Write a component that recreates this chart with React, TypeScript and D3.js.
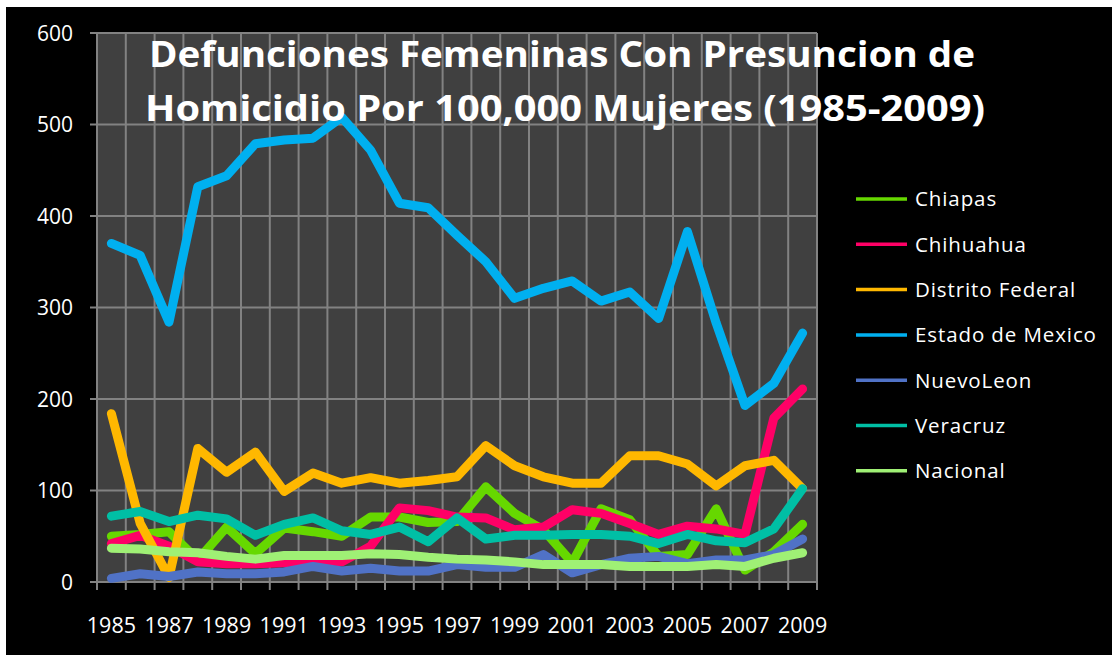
import * as d3 from "d3";

const years = d3.range(1985, 2010).map(String);
const yTicks = [0, 100, 200, 300, 400, 500, 600];
const xLabels = years.filter((y, i) => i % 2 === 0);

const chiapas = [50, 52, 55, 24, 60, 31, 59, 55, 50, 71, 71, 65, 66, 104, 75, 57, 21, 80, 68, 28, 30, 80, 13, 33, 63];
const chihuahua = [42, 51, 39, 22, 20, 20, 21, 24, 22, 39, 81, 78, 71, 70, 57, 60, 79, 75, 64, 52, 61, 58, 52, 179, 211];
const distritoFederal = [184, 64, 5, 146, 120, 142, 99, 119, 108, 114, 108, 111, 115, 149, 127, 115, 108, 108, 138, 138, 129, 105, 127, 133, 102];
const estadoMexico = [370, 357, 284, 432, 444, 479, 483, 485, 508, 472, 414, 409, 379, 350, 310, 321, 329, 307, 317, 288, 383, 283, 193, 217, 272];
const nuevoLeon = [4, 9, 6, 11, 9, 9, 11, 17, 12, 15, 12, 12, 19, 16, 16, 30, 10, 19, 26, 28, 20, 24, 24, 30, 47];
const veracruz = [72, 77, 66, 73, 69, 51, 63, 70, 56, 52, 60, 44, 70, 47, 51, 51, 52, 52, 50, 42, 52, 45, 43, 58, 102];
const nacional = [37, 36, 33, 32, 28, 25, 29, 29, 29, 31, 30, 27, 25, 24, 22, 19, 19, 19, 17, 17, 17, 19, 17, 26, 32];

const seriesNames = ["Chiapas", "Chihuahua", "Distrito Federal", "Estado de Mexico", "NuevoLeon", "Veracruz", "Nacional"];
const seriesValues = [chiapas, chihuahua, distritoFederal, estadoMexico, nuevoLeon, veracruz, nacional];
const seriesColors = ["#66d800", "#ff0066", "#ffb800", "#00b0f0", "#5072c6", "#00bfa5", "#9ff075"];

const W = 1112;
const H = 657;
const PLOT = { left: 97, right: 817, top: 33, bottom: 582 };
const FONT = "'Open Sans', 'DejaVu Sans', sans-serif";

export default function App() {
  const x = d3.scaleBand().domain(years).range([PLOT.left, PLOT.right]).padding(0);
  const y = d3.scaleLinear().domain([0, 600]).range([PLOT.bottom, PLOT.top]);
  const cx = (yr: string) => (x(yr) as number) + x.bandwidth() / 2;

  const line = d3
    .line<number>()
    .x((d, i) => cx(years[i]))
    .y((d) => y(d));

  const boundaries = years.map((yr) => x(yr) as number).concat([PLOT.right]);

  return (
    <div style={{ position: "absolute", left: 0, top: 0 }}>
      <svg width={W} height={H} style={{ display: "block" }}>
        <rect x={0} y={0} width={W} height={H} fill="#fff" />
        <rect x={6} y={7} width={W - 6} height={648} fill="#000" />
        <rect
          x={PLOT.left}
          y={PLOT.top}
          width={PLOT.right - PLOT.left}
          height={PLOT.bottom - PLOT.top}
          fill="#404040"
        />
        {/* grid */}
        {yTicks.map((t) => (
          <line key={"h" + t} x1={90} x2={PLOT.right} y1={y(t)} y2={y(t)} stroke="#828282" strokeWidth={2} />
        ))}
        {boundaries.map((bx, i) => (
          <line key={"v" + i} x1={bx} x2={bx} y1={PLOT.top} y2={PLOT.bottom + 8} stroke="#828282" strokeWidth={2} />
        ))}
        {/* y labels */}
        {yTicks.map((t) => (
          <text
            key={"yl" + t}
            x={73}
            y={y(t)}
            dy="0.36em"
            textAnchor="end"
            fill="#fff"
            fontFamily={FONT}
            fontSize={21}
          >
            {t}
          </text>
        ))}
        {/* x labels */}
        {xLabels.map((yr) => (
          <text
            key={"xl" + yr}
            x={cx(yr)}
            y={633}
            textAnchor="middle"
            fill="#fff"
            fontFamily={FONT}
            fontSize={21.5}
          >
            {yr}
          </text>
        ))}
        {/* lines */}
        {seriesValues.map((vals, i) => (
          <path
            key={seriesNames[i]}
            d={line(vals) || ""}
            fill="none"
            stroke={seriesColors[i]}
            strokeWidth={9}
            strokeLinecap="round"
            strokeLinejoin="round"
          />
        ))}
        {/* title */}
        <g fill="#fff" fontFamily={FONT} fontWeight="bold" fontSize={36} textAnchor="middle">
          <text x={562} y={67} textLength={826} lengthAdjust="spacingAndGlyphs">
            Defunciones Femeninas Con Presuncion de
          </text>
          <text x={565} y={121} textLength={840} lengthAdjust="spacingAndGlyphs">
            Homicidio Por 100,000 Mujeres (1985-2009)
          </text>
        </g>
        {/* legend */}
        {seriesNames.map((name, i) => {
          const ly = 199 + i * 45.3;
          return (
            <g key={"lg" + name}>
              <line x1={856} x2={907} y1={ly} y2={ly} stroke={seriesColors[i]} strokeWidth={3.5} />
              <text
                x={915}
                y={ly}
                dy="0.36em"
                fill="#fff"
                fontFamily={FONT}
                fontSize={20.5}
                letterSpacing={0.9}
              >
                {name}
              </text>
            </g>
          );
        })}
      </svg>
    </div>
  );
}
